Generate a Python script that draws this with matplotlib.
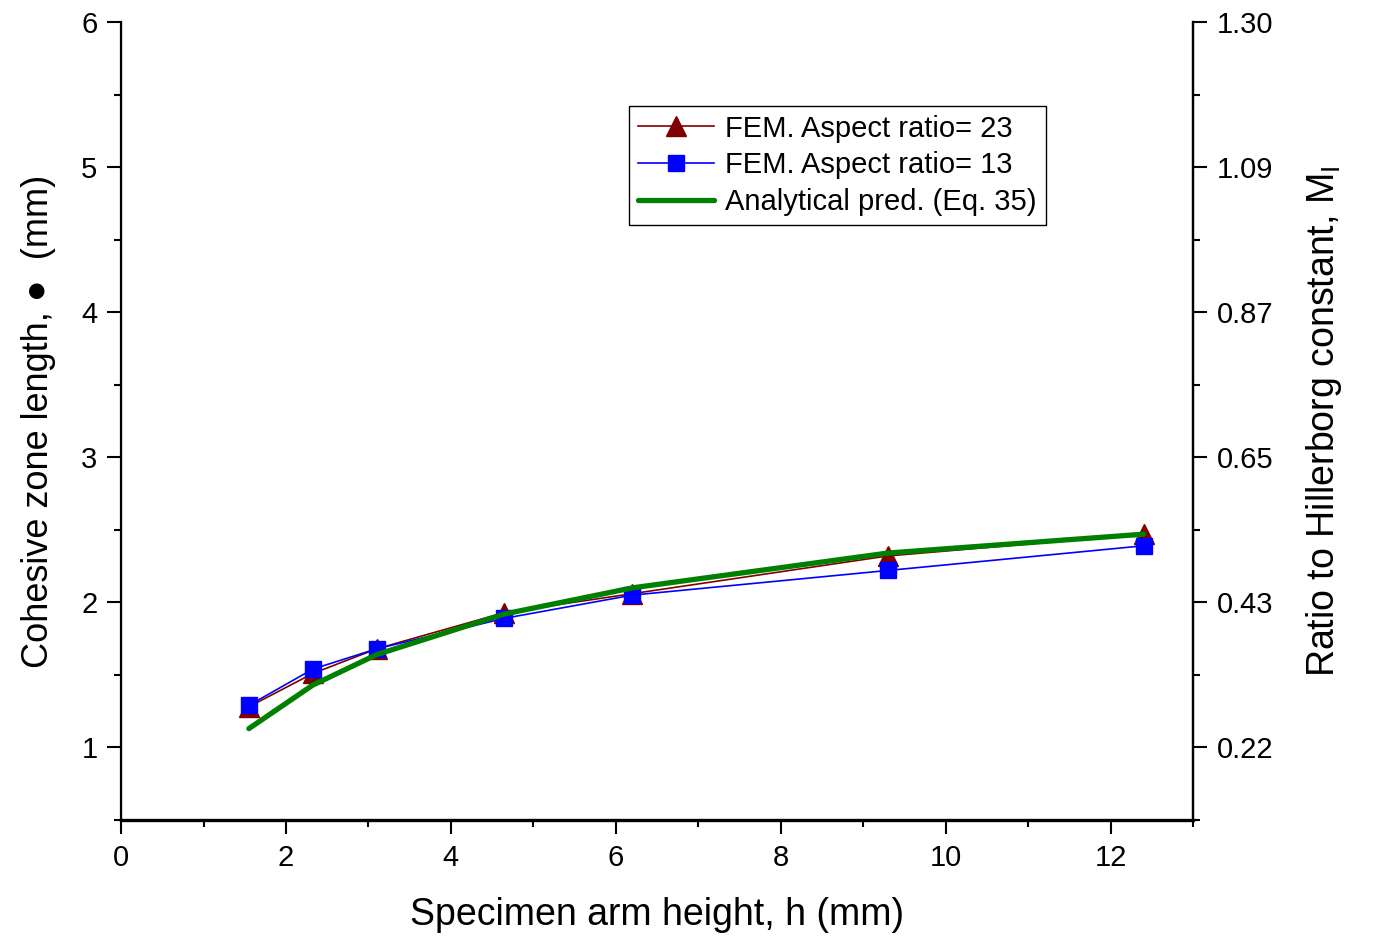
import matplotlib
matplotlib.use("Agg")
import matplotlib.pyplot as plt
from matplotlib.ticker import MultipleLocator, FixedLocator

plt.rcParams['font.family'] = ['Liberation Sans', 'DejaVu Sans']
plt.rcParams['mathtext.fontset'] = 'custom'
plt.rcParams['mathtext.rm'] = 'Liberation Sans'
plt.rcParams['mathtext.it'] = 'Liberation Sans:italic'

# Specimen arm height h (mm)
arm_height = [1.55, 2.325, 3.1, 4.65, 6.2, 9.3, 12.4]
# Cohesive zone length (mm)
fem_ar23 = [1.28, 1.51, 1.68, 1.93, 2.06, 2.32, 2.47]
fem_ar13 = [1.29, 1.54, 1.68, 1.89, 2.05, 2.22, 2.39]
analytical = [1.13, 1.43, 1.64, 1.92, 2.10, 2.34, 2.47]

left_ticks = [1, 2, 3, 4, 5, 6]
right_tick_labels = ["0.22", "0.43", "0.65", "0.87", "1.09", "1.30"]

fig = plt.figure(figsize=(13.74, 9.39), dpi=100)
ax = fig.add_axes([0.0881, 0.1267, 0.7802, 0.8499])

ax.plot(arm_height, fem_ar23, color='#800000', lw=1.2, marker='^', ms=15,
        markeredgecolor='#800000', markerfacecolor='#800000',
        label='FEM. Aspect ratio= 23')
ax.plot(arm_height, fem_ar13, color='#0000FF', lw=1.2, marker='s', ms=12,
        markeredgecolor='#0000FF', markerfacecolor='#0000FF',
        label='FEM. Aspect ratio= 13')
ax.plot(arm_height, analytical, color='#008000', lw=3.8, solid_capstyle='round',
        label='Analytical pred. (Eq. 35)')

ax.set_xlim(0, 13)
ax.set_ylim(0.5, 6)
ax.xaxis.set_major_locator(MultipleLocator(2))
ax.xaxis.set_minor_locator(MultipleLocator(1))
ax.yaxis.set_major_locator(FixedLocator(left_ticks))
ax.yaxis.set_minor_locator(MultipleLocator(0.5))

ax.spines['top'].set_visible(False)
ax.spines['left'].set_linewidth(1.6)
ax.spines['right'].set_linewidth(1.6)
ax.spines['bottom'].set_linewidth(2.4)

ax.tick_params(which='major', direction='out', length=10, width=1.5, labelsize=21, pad=7)
ax.tick_params(which='minor', direction='out', length=5, width=1.5)

ax.set_xlabel('Specimen arm height, h (mm)', fontsize=27, labelpad=18)
ax.set_ylabel('Cohesive zone length, \u25cf  (mm)', fontsize=26, labelpad=18)

ax2 = ax.twinx()
ax2.set_ylim(ax.get_ylim())
ax2.yaxis.set_major_locator(FixedLocator(left_ticks))
ax2.set_yticklabels(right_tick_labels)
ax2.yaxis.set_minor_locator(MultipleLocator(0.5))
ax2.spines['top'].set_visible(False)
ax2.spines['right'].set_linewidth(1.6)
ax2.tick_params(which='major', direction='out', length=10, width=1.5, labelsize=21, pad=7)
ax2.tick_params(which='minor', direction='out', length=5, width=1.5)
ax2.set_ylabel('Ratio to Hillerborg constant, M$_\\mathrm{I}$', fontsize=27, labelpad=22)

leg = ax.legend(loc='upper left', bbox_to_anchor=(0.474, 0.895), fontsize=21,
                frameon=True, fancybox=False, edgecolor='black', framealpha=1,
                handlelength=2.6, handletextpad=0.4, borderpad=0.3,
                labelspacing=0.3, borderaxespad=0)
leg.get_frame().set_linewidth(1.0)

fig.savefig('out.png', dpi=100)
